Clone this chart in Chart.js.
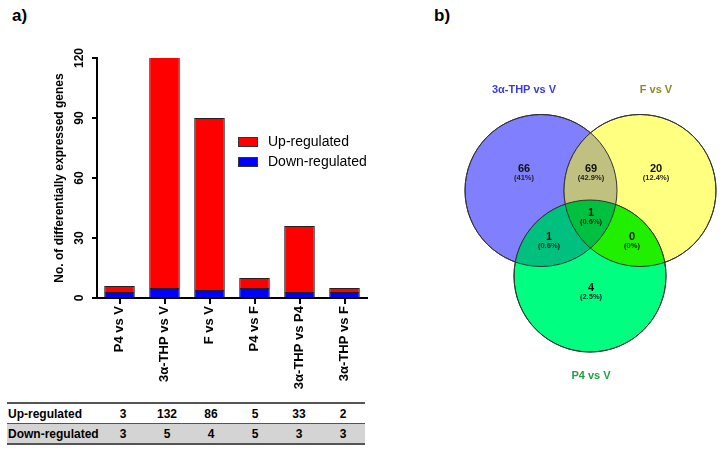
<!DOCTYPE html>
<html>
<head>
<meta charset="utf-8">
<title>Differentially expressed genes</title>
<script src="https://cdn.jsdelivr.net/npm/chart.js@4"></script>
<style>
  body { margin: 0; background: #fff; font-family: Arial, "Liberation Sans", sans-serif; }
  #wrap { position: relative; width: 724px; height: 450px; overflow: hidden; }
  .panel { position: absolute; font-weight: bold; font-size: 17px; }
  #barChart { position: absolute; left: 0; top: 0; }
  #vennChart { position: absolute; left: 380px; top: 0; }
  #counts { position: absolute; left: 7px; top: 402px; border-collapse: collapse; font-size: 12px; font-weight: bold; }
  #counts td { height: 19px; padding: 0; text-align: center; width: 44px; }
  #counts td.lab { text-align: left; width: 93px; padding-left: 1px; }
  #counts tr.up td { border-top: 2px solid #555; border-bottom: 1px solid #555; }
  #counts tr.down td { background: #d4d4d4; border-bottom: 2px solid #555; }
</style>
</head>
<body>
<div id="wrap">
  <div class="panel" style="left:12px;top:6px">a)</div>
  <div class="panel" style="left:434px;top:6px">b)</div>
  <canvas id="barChart" width="380" height="400"></canvas>
  <table id="counts"></table>
  <canvas id="vennChart" width="344" height="450"></canvas>
</div>
<script>
// data
const categories = ['P4 vs V', '3α-THP vs V', 'F vs V', 'P4 vs F', '3α-THP vs P4', '3α-THP vs F'];
const upRegulated = [3, 132, 86, 5, 33, 2];
const downRegulated = [3, 5, 4, 5, 3, 3];
const yTicks = [0, 30, 60, 90, 120];
const seriesNames = ['Up-regulated', 'Down-regulated'];

const vennSets = ['3α-THP vs V', 'F vs V', 'P4 vs V'];
const vennCounts = [66, 69, 20, 1, 1, 0, 4];
const vennPercent = ['41%', '42.9%', '12.4%', '0.6%', '0.6%', '0%', '2.5%'];

// venn layout (canvas units)
const circleLayout = [{ x: 161, y: 190.5, r: 76 }, { x: 260, y: 190.5, r: 76 }, { x: 210, y: 276, r: 76 }];
const setLabelPos = [[144, 90], [276, 90], [211, 376]];
const regionPos = [[144, 169], [211, 169], [276, 169], [211, 213], [169, 237], [252, 237], [211, 288]];

const FONT = 'Arial, "Liberation Sans", sans-serif';
Chart.defaults.font.family = FONT;
Chart.defaults.color = '#000';

const boxLegend = {
  id: 'boxLegend',
  afterDraw(chart) {
    const ctx = chart.ctx;
    const items = [chart.data.datasets[1], chart.data.datasets[0]];
    let y = 137;
    ctx.save();
    items.forEach(ds => {
      ctx.fillStyle = ds.backgroundColor;
      ctx.fillRect(238, y, 20, 10);
      ctx.strokeStyle = '#333';
      ctx.lineWidth = 1;
      ctx.strokeRect(238.5, y + 0.5, 19, 9);
      ctx.fillStyle = '#000';
      ctx.font = '14px ' + FONT;
      ctx.textBaseline = 'middle';
      ctx.fillText(ds.label, 268, y + 5);
      y += 20;
    });
    ctx.restore();
  }
};

new Chart(document.getElementById('barChart'), {
  type: 'bar',
  data: {
    labels: categories,
    datasets: [
      { label: seriesNames[1], data: downRegulated, backgroundColor: '#0000ff', borderColor: '#222', borderWidth: 1, barPercentage: 0.68, categoryPercentage: 1 },
      { label: seriesNames[0], data: upRegulated, backgroundColor: '#ff0000', borderColor: '#222', borderWidth: 1, barPercentage: 0.68, categoryPercentage: 1 }
    ]
  },
  options: {
    responsive: false,
    animation: false,
    events: [],
    layout: { padding: { left: 52, right: 13, top: 58, bottom: 2 } },
    plugins: { legend: { display: false }, tooltip: { enabled: false } },
    scales: {
      x: {
        stacked: true,
        afterFit: s => { s.height = 100; },
        border: { color: '#000', width: 2 },
        grid: { drawOnChartArea: false, offset: false, tickLength: 6, color: '#000', lineWidth: 2 },
        ticks: { minRotation: 90, maxRotation: 90, padding: 2, font: { size: 13, weight: 'bold' } }
      },
      y: {
        stacked: true,
        min: 0,
        max: 120,
        afterBuildTicks: s => { s.ticks = yTicks.map(v => ({ value: v })); },
        afterFit: s => { s.width = 45; },
        border: { color: '#000', width: 2 },
        grid: { drawOnChartArea: false, tickLength: 5, color: '#000', lineWidth: 2 },
        ticks: { minRotation: 90, maxRotation: 90, crossAlign: 'center', padding: 2, font: { size: 12, weight: 'bold' } },
        title: { display: true, text: 'No. of differentially expressed genes', font: { size: 12, weight: 'bold' }, padding: 0 }
      }
    }
  },
  plugins: [boxLegend]
});

// table under the bars
const table = document.getElementById('counts');
[[seriesNames[0], upRegulated, 'up'], [seriesNames[1], downRegulated, 'down']].forEach(([name, vals, cls]) => {
  const tr = document.createElement('tr');
  tr.className = cls;
  tr.innerHTML = '<td class="lab">' + name + '</td>' + vals.map(v => '<td>' + v + '</td>').join('');
  table.appendChild(tr);
});

// venn diagram
const regionColors = { ab: '#c0c080', ac: '#00c080', bc: '#20f000', abc: '#00c040' };
const setColors = ['#8080ff', '#ffff80', '#00ff80'];
const setTextColors = ['#3b3bd8', '#8a8a25', '#22a045'];

const vennPlugin = {
  id: 'vennRegions',
  afterDatasetsDraw(chart) {
    const ctx = chart.ctx;
    const pts = chart.getDatasetMeta(0).data.map(p => ({ x: p.x, y: p.y, r: p.options.radius }));
    const path = c => { ctx.beginPath(); ctx.arc(c.x, c.y, c.r, 0, Math.PI * 2); };
    const fillInter = (idx, color) => {
      ctx.save();
      idx.slice(0, -1).forEach(i => { path(pts[i]); ctx.clip(); });
      path(pts[idx[idx.length - 1]]);
      ctx.fillStyle = color;
      ctx.fill();
      ctx.restore();
    };
    fillInter([0, 1], regionColors.ab);
    fillInter([0, 2], regionColors.ac);
    fillInter([1, 2], regionColors.bc);
    fillInter([0, 1, 2], regionColors.abc);
    ctx.save();
    ctx.strokeStyle = '#333';
    ctx.lineWidth = 1;
    pts.forEach(c => { path(c); ctx.stroke(); });

    const sx = chart.scales.x, sy = chart.scales.y;
    ctx.textAlign = 'center';
    ctx.textBaseline = 'middle';
    vennSets.forEach((name, i) => {
      ctx.fillStyle = setTextColors[i];
      ctx.font = 'bold 11px ' + FONT;
      ctx.fillText(name, sx.getPixelForValue(setLabelPos[i][0]), sy.getPixelForValue(setLabelPos[i][1]));
    });
    vennCounts.forEach((n, i) => {
      const x = sx.getPixelForValue(regionPos[i][0]);
      const y = sy.getPixelForValue(regionPos[i][1]);
      ctx.fillStyle = '#111';
      ctx.font = 'bold 11px ' + FONT;
      ctx.fillText(String(n), x, y);
      ctx.fillStyle = '#222';
      ctx.font = 'bold 7.5px ' + FONT;
      ctx.fillText('(' + vennPercent[i] + ')', x, y + 9);
    });
    ctx.restore();
  }
};

new Chart(document.getElementById('vennChart'), {
  type: 'scatter',
  data: {
    datasets: [{
      data: circleLayout.map(c => ({ x: c.x, y: c.y })),
      backgroundColor: setColors,
      borderColor: '#333',
      borderWidth: 1,
      pointRadius: ctx => {
        const s = ctx.chart.scales.x;
        return s.getPixelForValue(circleLayout[ctx.dataIndex].r) - s.getPixelForValue(0);
      }
    }]
  },
  options: {
    responsive: false,
    animation: false,
    events: [],
    layout: { padding: 0 },
    plugins: { legend: { display: false }, tooltip: { enabled: false } },
    scales: {
      x: { type: 'linear', min: 0, max: 344, display: false },
      y: { type: 'linear', min: 0, max: 450, reverse: true, display: false }
    }
  },
  plugins: [vennPlugin]
});
</script>
</body>
</html>
